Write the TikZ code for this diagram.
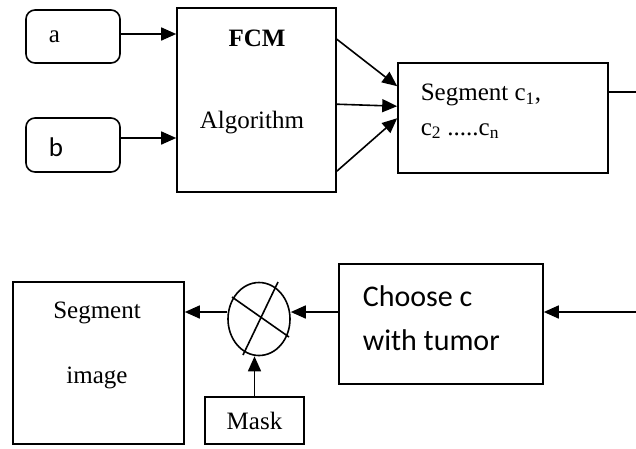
\documentclass[tikz,border=0pt]{standalone}
\usepackage{fontspec}
\setmainfont{Liberation Serif}
\newfontfamily\calibrifont{Carlito}
\usetikzlibrary{arrows.meta,shapes.geometric}

\begin{document}
\begin{tikzpicture}[x=1pt, y=-1pt, line width=1.6pt,
        font=\fontsize{25}{30}\selectfont,
        blk/.style={draw, inner sep=0pt},
        arr/.style={-{Triangle[length=15pt, width=13pt]}},
        txt/.style={inner sep=0pt}]
    \useasboundingbox (0,0) rectangle (636,448);

    % inputs
    \node[blk, rounded corners=9pt, minimum width=94pt, minimum height=53pt] (a) at (73,36.5) {};
    \node[blk, rounded corners=9pt, minimum width=94pt, minimum height=54pt] (b) at (73,145) {};
    \node[txt, anchor=west] (atxt) at (48,37) {a};
    \node[txt, anchor=west, font=\calibrifont\fontsize{27}{30}\selectfont] (btxt) at (48,147) {b};

    % clustering
    \node[blk, minimum width=159pt, minimum height=184pt] (fcm) at (256.5,100) {};
    \node[txt, font=\bfseries\fontsize{25}{30}\selectfont] (fcmtxt) at (257,38) {FCM};
    \node[txt] (algtxt) at (252,123) {Algorithm};

    \node[blk, minimum width=210pt, minimum height=110pt] (seg) at (503,118) {};
    \node[txt, anchor=west] (segtxt1) at (420,95) {Segment c\textsubscript{1},};
    \node[txt, anchor=west] (segtxt2) at (420,131) {c\textsubscript{2} .....c\textsubscript{n}};

    % selection and masking
    \node[blk, minimum width=204pt, minimum height=120pt] (choose) at (441,324) {};
    \node[txt, anchor=west, font=\calibrifont\fontsize{30}{34}\selectfont] (chtxt1) at (362,296) {Choose c};
    \node[txt, anchor=west, font=\calibrifont\fontsize{30}{34}\selectfont] (chtxt2) at (362,340) {with tumor};

    \node[draw, ellipse, inner sep=0pt, minimum width=62pt, minimum height=73pt] (mix) at (259,319) {};
    \draw ([shift={(-27,-22)}]mix.center) -- ([shift={(30,18)}]mix.center);
    \draw ([shift={(19,-37)}]mix.center) -- ([shift={(-16,36)}]mix.center);

    \node[blk, minimum width=99pt, minimum height=47pt] (mask) at (254.5,420.5) {};
    \node[txt] (masktxt) at (254.5,421) {Mask};

    \node[blk, minimum width=171pt, minimum height=162pt] (segimg) at (98.5,363) {};
    \node[txt] (imgtxt1) at (97,313) {Segment};
    \node[txt] (imgtxt2) at (97,378) {image};

    % connectors
    \coordinate (outR) at (636,92);
    \coordinate (inR) at (636,312);

    \draw[arr] ([yshift=2.5pt]a.east) -- ([yshift=2.5pt]a.east -| fcm.west);
    \draw[arr] ([yshift=7pt]b.east) -- ([yshift=7pt]b.east -| fcm.west);
    \draw[arr] ([yshift=-32pt]fcm.north east) -- ([yshift=-24pt]seg.north west);
    \draw[arr] ([yshift=-97pt]fcm.north east) -- ([yshift=-44pt]seg.north west);
    \draw[arr] ([yshift=-164pt]fcm.north east) -- ([yshift=-56pt]seg.north west);
    \draw (outR -| seg.east) -- (outR);
    \draw[arr] (inR) -- (inR -| choose.east);
    \draw[arr] (inR -| choose.west) -- (inR -| mix.east);
    \draw[arr] (inR -| mix.west) -- (inR -| segimg.east);
    \draw[arr] (mask.north) -- (mask.north |- mix.south);
\end{tikzpicture}
\end{document}
